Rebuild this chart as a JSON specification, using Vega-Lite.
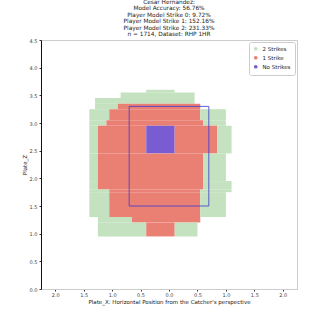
{
  "$schema": "https://vega.github.io/schema/vega-lite/v6.json",
  "width": 256,
  "height": 249,
  "autosize": {"type": "none"},
  "padding": {"left": 41, "top": 40, "right": 33, "bottom": 41},
  "background": "white",
  "title": {
    "text": ["Cesar Hernandez:", "Model Accuracy: 56.76%", "Player Model Strike 0: 9.72%", "Player Model Strike 1: 152.16%", "Player Model Strike 2: 231.33%", "n = 1714, Dataset: RHP 1HR"],
    "font": "DejaVu Sans",
    "fontSize": 5.8,
    "fontWeight": "normal",
    "lineHeight": 6.5,
    "color": "#222",
    "anchor": "middle",
    "offset": 1
  },
  "config": {
    "font": "DejaVu Sans",
    "view": {"stroke": "#cccccc", "strokeWidth": 1},
    "axis": {
      "labelFont": "DejaVu Sans",
      "titleFont": "DejaVu Sans",
      "labelFontSize": 5,
      "titleFontSize": 5.5,
      "titleFontWeight": "normal",
      "labelColor": "#444",
      "titleColor": "#222",
      "tickColor": "#333",
      "tickSize": 2,
      "grid": false
    },
    "legend": {
      "labelFont": "DejaVu Sans",
      "labelFontSize": 5.5,
      "labelColor": "#222"
    }
  },
  "datasets": {
    "cells": [
      {"x1": -0.4, "x2": 0.1, "y1": 3.55, "y2": 3.6, "cls": "2 Strikes"},
      {"x1": -0.85, "x2": 0.45, "y1": 3.45, "y2": 3.55, "cls": "2 Strikes"},
      {"x1": -1.3, "x2": 0.45, "y1": 3.35, "y2": 3.45, "cls": "2 Strikes"},
      {"x1": -1.3, "x2": -0.9, "y1": 3.25, "y2": 3.35, "cls": "2 Strikes"},
      {"x1": -0.9, "x2": 0.55, "y1": 3.25, "y2": 3.35, "cls": "1 Strike"},
      {"x1": -1.4, "x2": -1.05, "y1": 3.05, "y2": 3.25, "cls": "2 Strikes"},
      {"x1": -1.05, "x2": 0.55, "y1": 3.05, "y2": 3.25, "cls": "1 Strike"},
      {"x1": 0.55, "x2": 1.0, "y1": 3.05, "y2": 3.25, "cls": "2 Strikes"},
      {"x1": -1.4, "x2": -1.1, "y1": 2.95, "y2": 3.05, "cls": "2 Strikes"},
      {"x1": -1.1, "x2": 0.6, "y1": 2.95, "y2": 3.05, "cls": "1 Strike"},
      {"x1": 0.6, "x2": 1.0, "y1": 2.95, "y2": 3.05, "cls": "2 Strikes"},
      {"x1": -1.4, "x2": -1.25, "y1": 2.45, "y2": 2.95, "cls": "2 Strikes"},
      {"x1": -1.25, "x2": -0.4, "y1": 2.45, "y2": 2.95, "cls": "1 Strike"},
      {"x1": -0.4, "x2": 0.1, "y1": 2.45, "y2": 2.95, "cls": "No Strikes"},
      {"x1": 0.1, "x2": 0.85, "y1": 2.45, "y2": 2.95, "cls": "1 Strike"},
      {"x1": 0.85, "x2": 1.1, "y1": 2.45, "y2": 2.95, "cls": "2 Strikes"},
      {"x1": -1.4, "x2": -1.25, "y1": 1.95, "y2": 2.45, "cls": "2 Strikes"},
      {"x1": -1.25, "x2": 0.6, "y1": 1.95, "y2": 2.45, "cls": "1 Strike"},
      {"x1": 0.6, "x2": 1.0, "y1": 1.95, "y2": 2.45, "cls": "2 Strikes"},
      {"x1": -1.4, "x2": -1.25, "y1": 1.8, "y2": 1.95, "cls": "2 Strikes"},
      {"x1": -1.25, "x2": 0.6, "y1": 1.8, "y2": 1.95, "cls": "1 Strike"},
      {"x1": 0.6, "x2": 1.1, "y1": 1.8, "y2": 1.95, "cls": "2 Strikes"},
      {"x1": -1.4, "x2": -1.05, "y1": 1.75, "y2": 1.8, "cls": "2 Strikes"},
      {"x1": -1.05, "x2": 0.55, "y1": 1.75, "y2": 1.8, "cls": "1 Strike"},
      {"x1": 0.55, "x2": 1.1, "y1": 1.75, "y2": 1.8, "cls": "2 Strikes"},
      {"x1": -1.4, "x2": -1.05, "y1": 1.3, "y2": 1.75, "cls": "2 Strikes"},
      {"x1": -1.05, "x2": 0.55, "y1": 1.3, "y2": 1.75, "cls": "1 Strike"},
      {"x1": 0.55, "x2": 1.0, "y1": 1.3, "y2": 1.75, "cls": "2 Strikes"},
      {"x1": -1.25, "x2": -0.65, "y1": 1.2, "y2": 1.3, "cls": "2 Strikes"},
      {"x1": -0.65, "x2": 0.55, "y1": 1.2, "y2": 1.3, "cls": "1 Strike"},
      {"x1": -1.25, "x2": -0.4, "y1": 0.95, "y2": 1.2, "cls": "2 Strikes"},
      {"x1": -0.4, "x2": 0.1, "y1": 0.95, "y2": 1.2, "cls": "1 Strike"},
      {"x1": 0.1, "x2": 0.5, "y1": 0.95, "y2": 1.2, "cls": "2 Strikes"}
    ],
    "zone": [
      {"x1": -0.7, "x2": 0.7, "y1": 1.5, "y2": 3.3}
    ]
  },
  "encoding": {
    "x": {
      "field": "x1", "type": "quantitative",
      "scale": {"domain": [-2.25, 2.25], "nice": false, "zero": false},
      "axis": {
        "values": [-2, -1.5, -1, -0.5, 0, 0.5, 1, 1.5, 2],
        "labelExpr": "format(abs(datum.value), '.1f')",
        "labelOverlap": false,
        "title": "Plate_X: Horizontal Position from the Catcher's perspective",
        "domainColor": "#cccccc",
        "labelPadding": 1,
        "titlePadding": 2
      }
    },
    "x2": {"field": "x2"},
    "y": {
      "field": "y1", "type": "quantitative",
      "scale": {"domain": [0, 4.5], "nice": false, "zero": false},
      "axis": {
        "values": [0, 0.5, 1, 1.5, 2, 2.5, 3, 3.5, 4, 4.5],
        "format": ".1f",
        "labelOverlap": false,
        "labelFlush": false,
        "title": "Plate_Z",
        "domainColor": "#111",
        "domainWidth": 1,
        "labelPadding": 2,
        "titlePadding": 2
      }
    },
    "y2": {"field": "y2"}
  },
  "layer": [
    {
      "data": {"name": "cells"},
      "mark": {"type": "rect", "strokeWidth": 0},
      "encoding": {
        "color": {
          "field": "cls", "type": "nominal",
          "scale": {"domain": ["2 Strikes", "1 Strike", "No Strikes"], "range": ["#c4e2bf", "#ea7f73", "#7a5cd2"]},
          "legend": {
            "title": null,
            "orient": "top-right",
            "offset": 2,
            "symbolType": "circle",
            "symbolSize": 14,
            "symbolStrokeWidth": 0,
            "rowPadding": 2,
            "padding": 4,
            "strokeColor": "#cccccc",
            "fillColor": "white",
            "cornerRadius": 2,
            "labelOffset": 4
          }
        }
      }
    },
    {
      "data": {"name": "zone"},
      "mark": {"type": "rect", "filled": false, "stroke": "#3a3ad0", "strokeWidth": 1, "strokeOpacity": 0.8},
      "encoding": {}
    }
  ]
}
